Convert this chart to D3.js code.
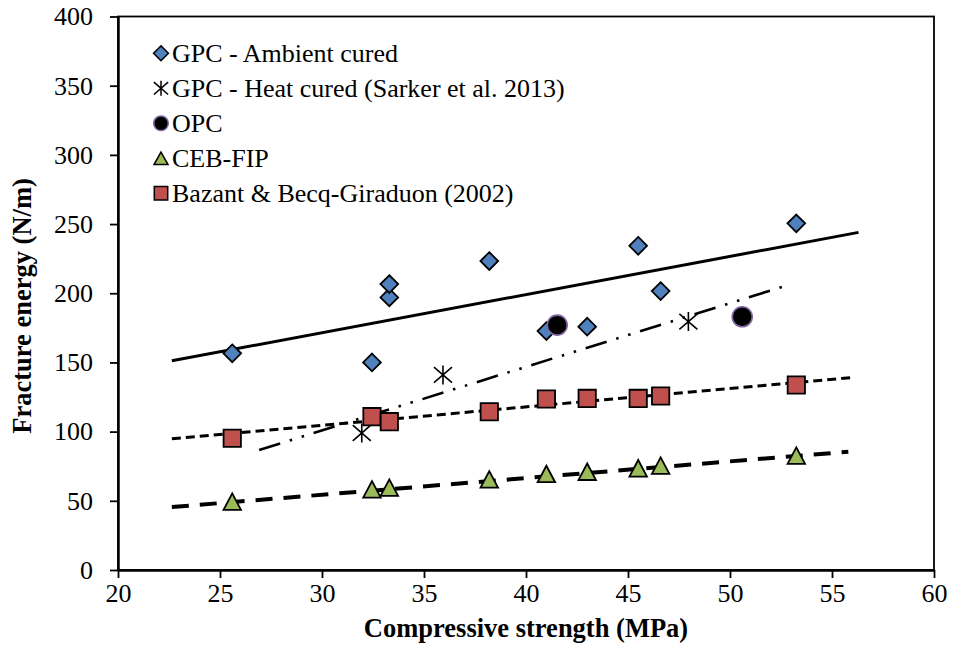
<!DOCTYPE html>
<html><head><meta charset="utf-8">
<script src="https://cdn.jsdelivr.net/npm/d3@7"></script>
<style>body{margin:0;background:#fff}svg{display:block}</style>
</head><body><svg id="c" width="953" height="653"></svg>
<script>
// ---- data ----
const xTicks = [20,25,30,35,40,45,50,55,60];
const yTicks = [0,50,100,150,200,250,300,350,400];

const ambientX = [25.6,32.45,33.3,33.3,38.2,41.0,43.0,45.5,46.6,53.25];
const ambientY = [156.6,150,197,206.6,223.3,172.7,175.8,234.3,201.6,250.5];

const heatX = [31.95,35.93,47.96];
const heatY = [99,141,179.5];

const opcX = [41.53,50.6];
const opcY = [177,183];

const cebX = [25.6,32.45,33.3,38.2,41.0,43.0,45.5,46.6,53.25];
const cebY = [49.4,58.3,59.5,65.5,69.4,71,73.5,75.4,82.6];

const bazX = [25.6,32.45,33.3,38.2,41.0,43.0,45.5,46.6,53.25];
const bazY = [95.2,110.8,107.2,114.4,123.6,124,124,125.7,133.7];

// trend lines (endpoints)
const trendAmbientX = [22.64,56.3], trendAmbientY = [151.2,244];
const trendHeatX = [26.92,53.0], trendHeatY = [86.7,206.6];
const trendBazX = [22.64,56.05], trendBazY = [94.8,139.2];
const trendCebX = [22.64,55.8], trendCebY = [45.5,85.5];

const legendLabels = ["GPC - Ambient cured","GPC - Heat cured (Sarker et al. 2013)","OPC","CEB-FIP","Bazant & Becq-Giraduon (2002)"];

// ---- chart ----
const FONT = '"Liberation Serif", Tinos, "Times New Roman", Times, serif';
const svg = d3.select("#c").attr("font-family", FONT);
const L=118, R=934, T=16.5, B=570;
const x = d3.scaleLinear().domain([20,60]).range([L,R]);
const y = d3.scaleLinear().domain([0,400]).range([B,T]);
const zip = (a,b)=>a.map((v,i)=>[v,b[i]]);

// frame
svg.append("rect").attr("x",L).attr("y",T).attr("width",R-L).attr("height",B-T)
  .attr("fill","none").attr("stroke","#000").attr("stroke-width",1.8);

// axes
const gx = svg.append("g").attr("transform",`translate(0,${B})`)
  .call(d3.axisBottom(x).tickValues(xTicks).tickSize(8).tickSizeOuter(0).tickPadding(5.5));
const gy = svg.append("g").attr("transform",`translate(${L},0)`)
  .call(d3.axisLeft(y).tickValues(yTicks).tickSize(8).tickSizeOuter(0).tickPadding(17));
[gx,gy].forEach(g=>{
  g.attr("font-family", FONT).attr("font-size",26);
  g.select(".domain").attr("stroke","#000").attr("stroke-width",2.5);
  g.selectAll(".tick line").attr("stroke","#000").attr("stroke-width",1.8);
  g.selectAll(".tick text").attr("fill","#000").attr("font-family", FONT).attr("font-size",26);
});

// titles
svg.append("text").attr("x",(L+R)/2).attr("y",637).attr("text-anchor","middle")
  .attr("font-family", FONT).attr("font-size",26.5).attr("font-weight","bold").text("Compressive strength (MPa)");
svg.append("text").attr("transform","translate(31,306) rotate(-90)").attr("text-anchor","middle")
  .attr("font-family", FONT).attr("font-size",26.5).attr("font-weight","bold").text("Fracture energy (N/m)");

// trend lines
const line = d3.line().x(d=>x(d[0])).y(d=>y(d[1]));
svg.append("path").datum(zip(trendAmbientX,trendAmbientY)).attr("d",line)
  .attr("stroke","#000").attr("stroke-width",3).attr("fill","none");
svg.append("path").datum(zip(trendHeatX,trendHeatY)).attr("d",line)
  .attr("stroke","#000").attr("stroke-width",2.6).attr("fill","none")
  .attr("stroke-dasharray","22,10,2.5,10,2.5,10");
svg.append("path").datum(zip(trendBazX,trendBazY)).attr("d",line)
  .attr("stroke","#000").attr("stroke-width",3).attr("fill","none")
  .attr("stroke-dasharray","9,5");
svg.append("path").datum(zip(trendCebX,trendCebY)).attr("d",line)
  .attr("stroke","#000").attr("stroke-width",4).attr("fill","none")
  .attr("stroke-dasharray","17,11");

// custom symbol types
const triType = (w,h)=>({draw(ctx){ctx.moveTo(0,-h/2);ctx.lineTo(w/2,h/2);ctx.lineTo(-w/2,h/2);ctx.closePath();}});
const starType = (r)=>({draw(ctx){
  ctx.moveTo(0,-r);ctx.lineTo(0,r);
  ctx.moveTo(-r*0.95,-r*0.82);ctx.lineTo(r*0.95,r*0.82);
  ctx.moveTo(-r*0.95,r*0.82);ctx.lineTo(r*0.95,-r*0.82);}});
const sym = (type,size)=>d3.symbol().type(type).size(size||1)();

function pts(xs,ys,type,size,fill,stroke,sw){
  svg.append("g").selectAll("path").data(zip(xs,ys)).join("path")
    .attr("transform",d=>`translate(${x(d[0])},${y(d[1])})`)
    .attr("d",sym(type,size)).attr("fill",fill).attr("stroke",stroke).attr("stroke-width",sw)
    .attr("stroke-linejoin","miter");
}
pts(ambientX,ambientY,d3.symbolDiamond2,200,"#4f81bd","#000",1.8);
pts(bazX,bazY,d3.symbolSquare,300,"#c0504d","#000",1.8);
pts(cebX,cebY,triType(17.5,16.5),1,"#9bbb59","#000",1.8);
pts(heatX,heatY,starType(9.5),1,"none","#000",1.6);
svg.append("g").selectAll("circle").data(zip(opcX,opcY)).join("circle")
  .attr("cx",d=>x(d[0])).attr("cy",d=>y(d[1])).attr("r",10)
  .attr("fill","#000").attr("stroke","#8064a2").attr("stroke-width",1.6);

// legend
const lg = svg.append("g");
const ly0 = 53.3, ldy = 35, lmx = 161, ltx = 172;
const lspec = [
  {t:d3.symbolDiamond2,s:140,f:"#4f81bd",w:1.5},
  {t:starType(7.5),s:1,f:"none",w:1.5},
  {c:true},
  {t:triType(14,12.5),s:1,f:"#9bbb59",w:1.5},
  {t:d3.symbolSquare,s:180,f:"#c0504d",w:1.5}
];
legendLabels.forEach((lab,i)=>{
  const yy = ly0 + i*ldy;
  const s = lspec[i];
  if(s.c){
    lg.append("circle").attr("cx",lmx).attr("cy",yy).attr("r",7.3).attr("fill","#000")
      .attr("stroke","#8064a2").attr("stroke-width",1.5);
  } else {
    lg.append("path").attr("transform",`translate(${lmx},${yy})`).attr("d",sym(s.t,s.s))
      .attr("fill",s.f).attr("stroke","#000").attr("stroke-width",s.w);
  }
  lg.append("text").attr("x",ltx).attr("y",yy).attr("dy","0.33em").attr("font-size",26)
    .attr("font-family", FONT).attr("fill","#000").text(lab);
});
</script></body></html>
